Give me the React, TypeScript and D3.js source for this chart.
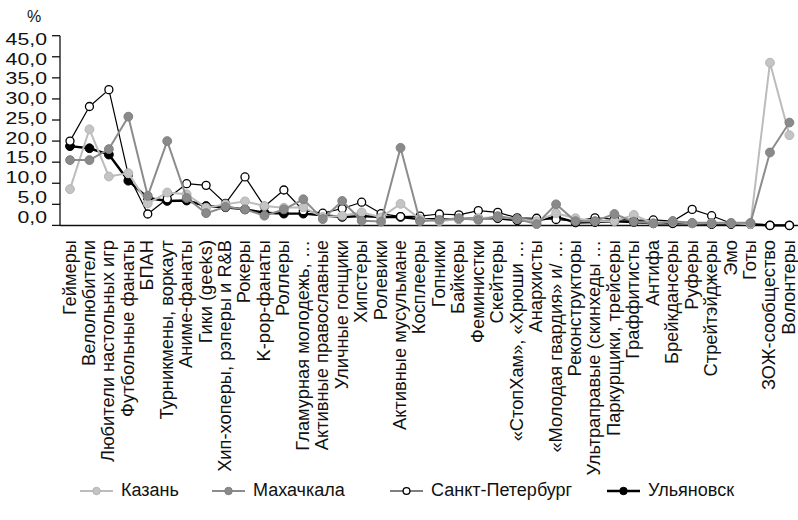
import React from "react";
import * as d3 from "d3";

const categories = [
  "Геймеры", "Велолюбители", "Любители настольных игр", "Футбольные фанаты", "БПАН",
  "Турникмены, воркаут", "Аниме-фанаты", "Гики (geeks)", "Хип-хоперы, рэперы и R&B", "Рокеры",
  "K-pop-фанаты", "Роллеры", "Гламурная молодежь, …", "Активные православные", "Уличные гонщики",
  "Хипстеры", "Ролевики", "Активные мусульмане", "Косплееры", "Гопники",
  "Байкеры", "Феминистки", "Скейтеры", "«СтопХам», «Хрюши …", "Анархисты",
  "«Молодая гвардия» и/ …", "Реконструкторы", "Ультраправые (скинхеды …", "Паркурщики, трейсеры", "Граффитисты",
  "Антифа", "Брейкдансеры", "Руферы", "Стрейтэйджеры", "Эмо",
  "Готы", "ЗОЖ-сообщество", "Волонтеры",
];

const kazan = [8.6, 22.8, 11.6, 12.4, 5.2, 7.8, 7.4, 4.2, 5.0, 5.7, 4.6, 4.2, 4.3, 2.0, 2.3, 3.1, 1.9, 5.1, 1.5, 1.0, 1.5, 1.7, 2.0, 1.5, 1.0, 2.9, 1.7, 1.0, 1.0, 2.5, 0.5, 0.8, 0.5, 0.5, 0.5, 0.3, 38.6, 21.4];
const makhachkala = [15.5, 15.5, 18.1, 25.8, 7.0, 20.0, 6.5, 2.9, 4.4, 3.8, 2.3, 3.8, 6.2, 1.5, 5.8, 1.1, 0.9, 18.4, 1.0, 1.3, 1.7, 1.3, 2.2, 1.5, 0.3, 5.0, 1.0, 1.0, 2.7, 0.9, 0.5, 1.0, 0.6, 0.6, 0.6, 0.6, 17.3, 24.4];
const spb = [20.0, 28.2, 32.2, 12.0, 2.7, 6.3, 9.9, 9.5, 5.2, 11.5, 4.5, 8.4, 3.5, 2.9, 4.0, 5.5, 2.8, 2.1, 2.2, 2.7, 2.5, 3.5, 3.1, 1.8, 1.7, 1.4, 1.0, 1.8, 1.5, 1.2, 1.3, 1.0, 3.8, 2.3, 0.5, 0.3, 0.0, 0.0];
const ulyanovsk = [18.8, 18.3, 16.8, 10.6, 6.5, 5.8, 5.9, 4.6, 4.3, 3.8, 3.0, 2.8, 2.8, 2.4, 2.0, 2.2, 2.0, 2.0, 1.5, 1.5, 1.5, 1.7, 1.7, 1.2, 1.2, 2.0, 0.7, 0.8, 1.0, 0.8, 0.5, 0.5, 0.5, 0.3, 0.3, 0.3, 0.0, 0.0];

const yTicks = [0, 5, 10, 15, 20, 25, 30, 35, 40, 45];

const seriesNames = ["Казань", "Махачкала", "Санкт-Петербург", "Ульяновск"];

type Style = { line: string; width: number; fill: string; stroke: string; sw: number; r: number };
const styles: Record<string, Style> = {
  "Казань": { line: "#bcbcbc", width: 2, fill: "#c4c4c4", stroke: "#b4b4b4", sw: 1, r: 4.4 },
  "Махачкала": { line: "#8c8c8c", width: 2, fill: "#8a8a8a", stroke: "#808080", sw: 1, r: 4.4 },
  "Санкт-Петербург": { line: "#000000", width: 1.2, fill: "#ffffff", stroke: "#000000", sw: 1.3, r: 4.0 },
  "Ульяновск": { line: "#000000", width: 2.4, fill: "#000000", stroke: "#000000", sw: 1, r: 4.4 },
};

const values: Record<string, number[]> = {
  "Казань": kazan,
  "Махачкала": makhachkala,
  "Санкт-Петербург": spb,
  "Ульяновск": ulyanovsk,
};

const drawOrder = ["Ульяновск", "Санкт-Петербург", "Казань", "Махачкала"];

const legendX = [80, 212, 390, 607];

export default function App() {
  const W = 798, H = 520;
  const x = d3.scalePoint<string>().domain(categories).range([70, 789.4]);
  const y = d3.scaleLinear().domain([0, 45]).range([225.4, 35.7]);
  // tick labels in the reference sit on a slightly tighter spacing than the tick marks
  const yLabel = d3.scaleLinear().domain([0, 45]).range([218.5, 40.5]);
  const axisX0 = 60;
  const font = "'Liberation Sans', Arial, sans-serif";
  const fmt = (v: number) => d3.format(".1f")(v).replace(".", ",");

  const line = d3
    .line<number>()
    .x((_, i) => x(categories[i]) as number)
    .y((d) => y(d));

  return (
    <svg width={W} height={H} style={{ position: "absolute", left: 0, top: 0, background: "#fff" }} fontFamily={font}>
      <text x={34} y={18} fontSize={16} textAnchor="middle" dominantBaseline="middle" fill="#111">%</text>
      {/* y axis */}
      <line x1={axisX0} x2={axisX0} y1={y(45)} y2={y(0)} stroke="#111" strokeWidth={1.3} />
      {yTicks.map((t) => (
        <g key={t}>
          <line x1={axisX0 - 8} x2={axisX0} y1={y(t)} y2={y(t)} stroke="#111" strokeWidth={1.3} />
          <text
            x={0}
            y={0}
            transform={`translate(47,${yLabel(t)}) scale(1.33,1)`}
            fontSize={16}
            textAnchor="end"
            dominantBaseline="middle"
            fill="#111"
          >
            {fmt(t)}
          </text>
        </g>
      ))}
      {/* x axis */}
      <line x1={axisX0} x2={W} y1={y(0)} y2={y(0)} stroke="#111" strokeWidth={1.5} />
      {categories.map((c) => (
        <text
          key={c}
          transform={`translate(${x(c)},240) rotate(-90)`}
          fontSize={18.3}
          textAnchor="end"
          dy="0.3em"
          fill="#111"
        >
          {c}
        </text>
      ))}
      {/* series */}
      {drawOrder.map((name) => {
        const s = styles[name];
        const v = values[name];
        return (
          <g key={name}>
            <path d={line(v) || ""} fill="none" stroke={s.line} strokeWidth={s.width} strokeLinejoin="round" />
            {v.map((d, i) => (
              <circle key={i} cx={x(categories[i])} cy={y(d)} r={s.r} fill={s.fill} stroke={s.stroke} strokeWidth={s.sw} />
            ))}
          </g>
        );
      })}
      {/* legend */}
      {seriesNames.map((name, i) => {
        const s = styles[name];
        const lx = legendX[i];
        return (
          <g key={name}>
            <line x1={lx} x2={lx + 33} y1={491} y2={491} stroke={s.line} strokeWidth={s.width} />
            <circle cx={lx + 16.5} cy={491} r={s.r * 0.85} fill={s.fill} stroke={s.stroke} strokeWidth={s.sw} />
            <text x={lx + 41} y={491} fontSize={18} dominantBaseline="middle" fill="#111">{name}</text>
          </g>
        );
      })}
    </svg>
  );
}
